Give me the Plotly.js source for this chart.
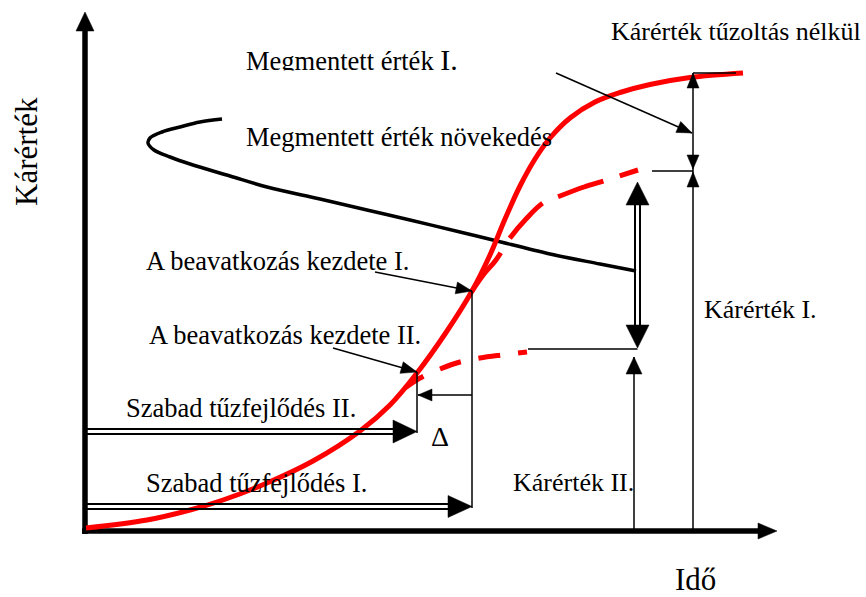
<!DOCTYPE html>
<html><head><meta charset="utf-8">
<script src="https://cdn.plot.ly/plotly-3.0.1.min.js"></script>
<style>html,body{margin:0;padding:0;background:#fff;}#chart{width:866px;height:597px;}</style>
</head><body><div id="chart"></div>
<script>
// ---- schematic data: time (x) vs. damage value (y) ----
const fireCurveTime   = [1,62,105,138,182,228,275,305,332,360,387,405,420,435,450,465,485,510,535,565,605,658];
const fireCurveDamage = [3,11,21,31,48,70,100,126,158,197,240,276,312,345,372,393,413,429,438.5,446.5,453.5,458];
const interventionITime   = [387,399,411,425,441,458,475,499,522,553];
const interventionIDamage = [240,257,271,293,312,328,335,344,351,361];
const interventionIITime   = [320,335,355,375,395,417,442];
const interventionIIDamage = [143,153,162,169,173,176,179];
const savedGrowthTime  = [137,115,95,77,65,63,69,85,105,145,182,235,282,325,375,408,465,515,551];
const savedGrowthValue = [412,409,404,399,393,388,381,374,367,355,344,332,321,311,299,291,277,267,260];
// thin guide lines [x0,x1] / [y0,y1]
const guideX = [[471,607],[608,608],[608,651],[567,608],[443,552.5],[549,549],[290,387],[387,387],[387,333],[248,332],[332,332]];
const guideY = [[458,398],[458,0],[458,458],[360,360],[182,182],[0,174],[259,240],[240,23],[136,136],[183,159],[159,98]];
// arrow heads: tip and a point behind it
const headTipX  = [607,608,608,608,549,387,333,332];
const headTipY  = [398,458,362,359,174,240,136,159];
const headFromX = [471,608,608,608,549,290,387,248];
const headFromY = [458,0,458,0,0,259,136,183];
// double-line arrows
const freeDevIIY = [102,97], freeDevIIEnd = 310, freeDevIITip = [332,99.5];
const freeDevIY  = [27,22],  freeDevIEnd  = 365, freeDevITip  = [387,24.5];
const savedArrowX = [550,555], savedArrowY = [206,327], savedArrowTips = [349,183];
// labels
const labelTexts = ["Kárérték tűzoltás nélkül","Megmentett érték növekedés","A beavatkozás kezdete I.","A beavatkozás kezdete II.","Szabad tűzfejlődés II.","Szabad tűzfejlődés I.","Kárérték II.","Kárérték I.","Δ","Idő"];
const labelX = [525,160,60,63,40,60,427,618,345,589];
const labelY = [515,410,286,212,139,64,64,237,111,-30];
const labelSize = [26,26.5,26.5,26.5,26.5,26.5,26,26,28,31];
const yTitle = "Kárérték";
const topLabel = 'Megmentett érték <span style="font-size:30px">I.</span>';

const FONT = "Liberation Serif, Times New Roman, serif";
const traces = [];
function line(xs, ys, width, color, dash, shape){
  traces.push({type:'scatter',mode:'lines',x:xs,y:ys,hoverinfo:'skip',
    line:{width:width,color:color,dash:dash||'solid',shape:shape||'linear',smoothing:1}});
}
function head(tx,ty,fx,fy,len,hw){
  const dx=tx-fx, dy=ty-fy, m=Math.hypot(dx,dy), ux=dx/m, uy=dy/m;
  const bx=tx-len*ux, by=ty-len*uy;
  traces.push({type:'scatter',mode:'lines',hoverinfo:'skip',
    x:[tx,bx-hw*uy,bx+hw*uy,tx], y:[ty,by+hw*ux,by-hw*ux,ty],
    fill:'toself',fillcolor:'#000',line:{width:0.5,color:'#000'}});
}
// axes
line([0,0],[-3,500],5.5,'#000'); head(0,519,0,0,19,9);
line([-3,673],[0,0],5.5,'#000'); head(692,0,0,0,19,8);
// curves
line(savedGrowthTime,savedGrowthValue,3.5,'#000',null,'spline');
line(interventionITime,interventionIDamage,5,'#ff0000','48px,17px','spline');
line(interventionIITime,interventionIIDamage,5,'#ff0000','22px,18px','spline');
line(fireCurveTime,fireCurveDamage,5,'#ff0000',null,'spline');
// guide lines
for(let i=0;i<guideX.length;i++) line(guideX[i],guideY[i],1.5,'#000');
const hl=[15,15,14,15,17,16,14,16], hw=[6,6,6,6,8,6,6,6];
for(let i=0;i<headTipX.length;i++) head(headTipX[i],headTipY[i],headFromX[i],headFromY[i],hl[i],hw[i]);
// double arrows
freeDevIIY.forEach(y=>line([0,freeDevIIEnd],[y,y],2,'#000'));
head(freeDevIITip[0],freeDevIITip[1],0,freeDevIITip[1],24,11.5);
freeDevIY.forEach(y=>line([0,freeDevIEnd],[y,y],2,'#000'));
head(freeDevITip[0],freeDevITip[1],0,freeDevITip[1],24,11);
savedArrowX.forEach(x=>line([x,x],savedArrowY,2,'#000'));
const cx=(savedArrowX[0]+savedArrowX[1])/2;
head(cx,savedArrowTips[0],cx,0,23,11.5);
head(cx,savedArrowTips[1],cx,500,23,11.5);
// clipped top label as text trace
traces.push({type:'scatter',mode:'text',x:[161],y:[467.5],text:[topLabel],textposition:'middle right',
  textfont:{family:FONT,size:26.5,color:'#000'},hoverinfo:'skip',cliponaxis:false});

const annotations = labelTexts.map((t,i)=>({text:t,x:labelX[i],y:labelY[i],xref:'x',yref:'y',
  xanchor:'left',yanchor:'top',showarrow:false,borderpad:0,font:{family:FONT,size:labelSize[i],color:'#000'}}));
annotations.push({text:yTitle,x:-59,y:379,xref:'x',yref:'y',xanchor:'center',yanchor:'middle',textangle:-90,
  showarrow:false,borderpad:0,font:{family:FONT,size:31,color:'#000'}});

const layout = {width:866,height:597,margin:{l:0,r:0,t:0,b:0},showlegend:false,hovermode:false,
  paper_bgcolor:'#fff',plot_bgcolor:'#fff',font:{family:FONT},
  xaxis:{range:[-85,781],visible:false,fixedrange:true},
  yaxis:{range:[-66,531],visible:false,fixedrange:true},
  shapes:[{type:'rect',layer:'above',xref:'x',yref:'y',x0:153,x1:385,y0:451,y1:460.5,fillcolor:'#fff',line:{width:0}}],
  annotations:annotations};
Plotly.newPlot('chart',traces,layout,{displayModeBar:false,staticPlot:true});
</script></body></html>
